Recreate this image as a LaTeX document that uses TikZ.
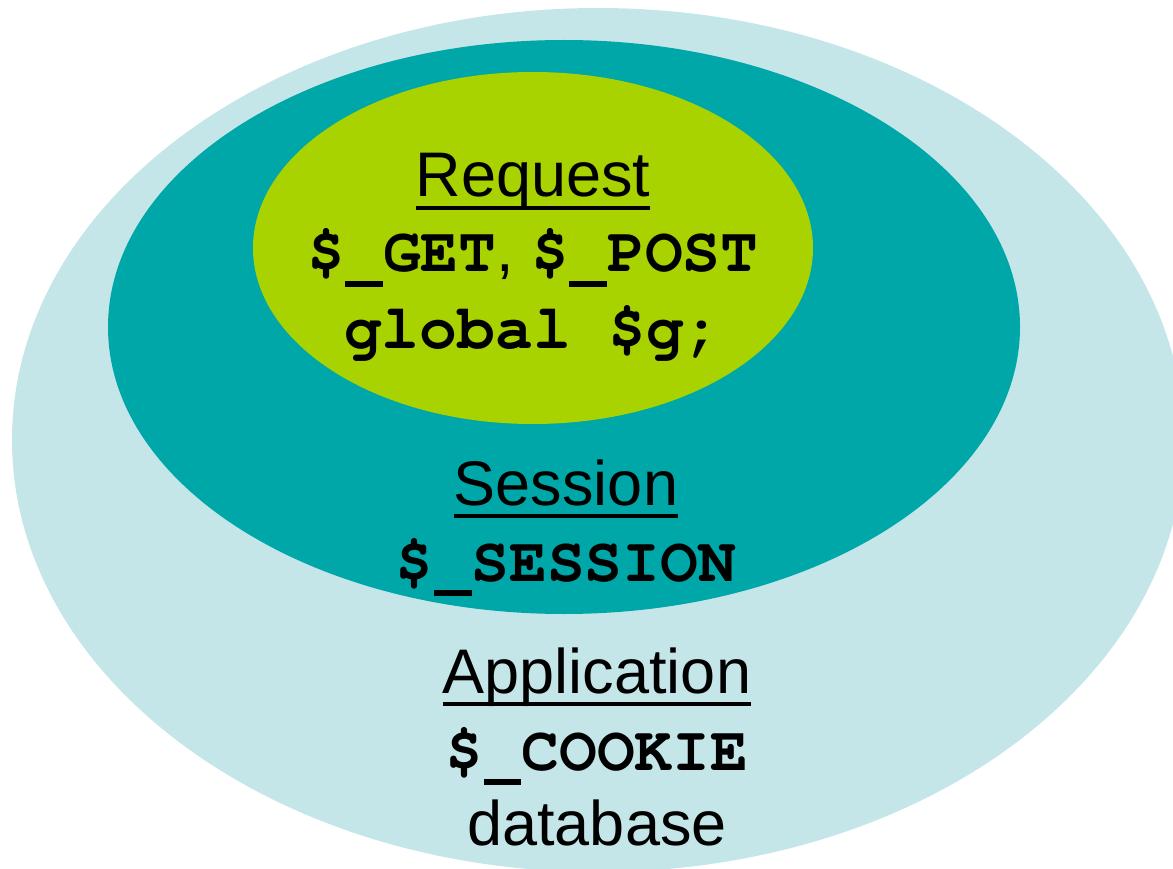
\documentclass[tikz,border=0pt]{standalone}
\usepackage[T1,TU]{fontenc}
\usepackage{fontspec}
\setmainfont{Liberation Sans}
\usepackage{tikz}
\usepackage{xcolor}
\usetikzlibrary{shapes.geometric, positioning}

\definecolor{appblue}{HTML}{C4E6E8}
\definecolor{sessionteal}{HTML}{00A7A9}
\definecolor{requestgreen}{HTML}{A8D300}
\newcommand\codefont{\fontencoding{T1}\fontfamily{pcr}\fontseries{b}\selectfont}
\newcommand\lowbar{\rule[-15pt]{0.6em}{6pt}}
\newcommand\ulword[1]{\setbox0\hbox{#1}\rlap{\rule[-13pt]{\wd0}{4pt}}\box0}

\begin{document}
\begin{tikzpicture}[
  x=1pt, y=-1pt,
  zone/.style={ellipse, inner sep=0pt, outer sep=0pt},
  lbl/.style={font=\fontsize{63}{76}\selectfont, inner sep=0pt, anchor=base},
  codelbl/.style={lbl, font=\fontsize{63}{76}\selectfont\codefont}
]
  \useasboundingbox (0,0) rectangle (1173,869);
  \clip (0,0) rectangle (1173,869);

  \node [zone, fill=appblue, minimum width=1172pt, minimum height=864pt] (application) at (598,440) {};
  \node [zone, fill=sessionteal, minimum width=912pt, minimum height=574pt] (session) at (564,327) {};
  \node [zone, fill=requestgreen, minimum width=560pt, minimum height=352pt] (request) at (533,248) {};

  \node [lbl] (requestname) at (533,197) {\ulword{Request}};
  \node [lbl] (getpost) at ([yshift=-75pt]requestname.base) {{\codefont\$\lowbar GET}, {\codefont\$\lowbar POST}};
  \node [codelbl] (globalg) at ([yshift=-76pt]getpost.base) {global \$g;};

  \node [lbl] (sessionname) at (566,505) {\ulword{Session}};
  \node [codelbl] (sessionvar) at ([yshift=-76pt]sessionname.base) {\$\lowbar SESSION};

  \node [lbl] (appname) at (597,693) {\ulword{Application}};
  \node [codelbl] (cookievar) at ([yshift=-77pt]appname.base) {\$\lowbar COOKIE};
  \node [lbl] (dbname) at ([yshift=-75pt]cookievar.base) {database};
\end{tikzpicture}
\end{document}
